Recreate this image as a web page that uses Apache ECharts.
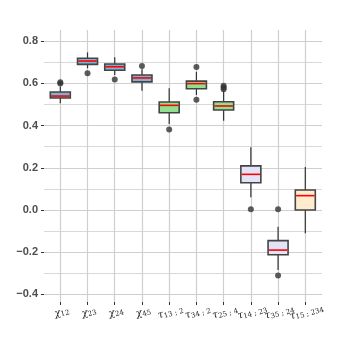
<!DOCTYPE html>
<html><head><meta charset="utf-8">
<script src="https://cdn.jsdelivr.net/npm/echarts@6/dist/echarts.min.js"></script>
<style>html,body{margin:0;padding:0;background:#fff}#c{width:357px;height:357px}</style>
</head><body><div id="c"></div>
<script>
const categories = ['χ12','χ23','χ24','χ45','τ13 ; 2','τ34 ; 2','τ25 ; 4','τ14 ; 23','τ35 ; 24','τ15 ; 234'];
// [lower whisker, q1, median, q3, upper whisker]
const boxStats = [
  [0.506, 0.531, 0.540, 0.559, 0.585],
  [0.672, 0.690, 0.706, 0.719, 0.747],
  [0.640, 0.662, 0.679, 0.692, 0.724],
  [0.565, 0.607, 0.626, 0.640, 0.667],
  [0.408, 0.461, 0.496, 0.512, 0.577],
  [0.545, 0.575, 0.599, 0.611, 0.655],
  [0.423, 0.474, 0.493, 0.513, 0.565],
  [0.060, 0.129, 0.169, 0.209, 0.297],
  [-0.284, -0.212, -0.190, -0.145, -0.079],
  [-0.110, 0.000, 0.068, 0.095, 0.204]
];
const boxGroups = ['chi','chi','chi','chi','tau1','tau1','tau1','tau2','tau2','tau3'];
const outliers = [
  [0, 0.600], [0, 0.606], [1, 0.648], [2, 0.619], [3, 0.682],
  [4, 0.382], [5, 0.678], [5, 0.523], [6, 0.589], [6, 0.580], [6, 0.572],
  [7, 0.003], [8, 0.003], [8, -0.310]
];
const yTicks = [-0.4, -0.2, 0.0, 0.2, 0.4, 0.6, 0.8];

const fills = {chi: '#7fb3d5', tau1: '#90e090', tau2: '#e3e3f7', tau3: '#ffebcd'};

const chart = echarts.init(document.getElementById('c'), null, {renderer: 'canvas'});
const py0 = 210, pxPerUnit = 211;
const g0top = py0 - yTicks[yTicks.length - 1] * pxPerUnit;
const g0h = (yTicks[yTicks.length - 1] - yTicks[0]) * pxPerUnit;
const g1top = 30, g1bottom = 302;
const halfBox = 10;

function labelFmt(v) {
  const g = v.charAt(0), s = v.slice(1);
  return '{g|' + g + '}{s|' + s + '}';
}

chart.setOption({
  animation: false,
  backgroundColor: '#fff',
  grid: [
    {left: 44, top: g0top, width: 278, height: g0h},
    {left: 60.3, top: g1top, width: 245, height: g1bottom - g1top}
  ],
  xAxis: [
    {gridIndex: 0, type: 'value', show: false, min: 0, max: 1},
    {
      gridIndex: 1, type: 'category', data: categories, boundaryGap: false, position: 'bottom',
      axisLine: {show: false, onZero: false},
      axisTick: {show: true, length: 3, lineStyle: {color: '#333', width: 1}},
      splitLine: {show: true, lineStyle: {color: '#cfcfcf', width: 1.2}},
      axisLabel: {
        interval: 0, rotate: 15, margin: 5, align: 'center', verticalAlign: 'top',
        formatter: labelFmt,
        rich: {
          g: {fontFamily: 'DejaVu Serif', fontStyle: 'italic', fontSize: 10, color: '#222'},
          s: {fontFamily: 'DejaVu Serif', fontSize: 7, color: '#222', verticalAlign: 'bottom', padding: [4, 0, 0, 0]}
        }
      }
    }
  ],
  yAxis: [
    {
      gridIndex: 0, type: 'value', min: yTicks[0], max: yTicks[yTicks.length - 1], interval: 0.2,
      axisLine: {show: false},
      axisTick: {show: true, length: 3, lineStyle: {color: '#333', width: 1}},
      axisLabel: {
        margin: 6, color: '#4d4d4d', fontSize: 11, fontWeight: 'bold', fontFamily: 'Liberation Sans',
        formatter: v => v.toFixed(1).replace('-', '\u2212')
      },
      splitLine: {show: true, lineStyle: {color: '#cfcfcf', width: 1.2}},
      minorTick: {show: false, splitNumber: 2},
      minorSplitLine: {show: true, lineStyle: {color: '#d9d9d9', width: 1}}
    },
    {
      gridIndex: 1, type: 'value', show: false,
      min: -(g1bottom - py0) / pxPerUnit, max: (py0 - g1top) / pxPerUnit
    }
  ],
  series: [
    {
      type: 'custom', xAxisIndex: 1, yAxisIndex: 1,
      data: boxStats.map((b, i) => [i].concat(b)),
      encode: {x: 0, y: [1, 2, 3, 4, 5]},
      renderItem: function (params, api) {
        const i = api.value(0);
        const pMin = api.coord([i, api.value(1)]);
        const pQ1 = api.coord([i, api.value(2)]);
        const pMed = api.coord([i, api.value(3)]);
        const pQ3 = api.coord([i, api.value(4)]);
        const pMax = api.coord([i, api.value(5)]);
        const x = pMed[0];
        const fill = fills[boxGroups[params.dataIndex]];
        return {
          type: 'group',
          children: [
            {type: 'line', shape: {x1: x, y1: pMax[1], x2: x, y2: pQ3[1]}, style: {stroke: '#333', lineWidth: 1.2}},
            {type: 'line', shape: {x1: x, y1: pQ1[1], x2: x, y2: pMin[1]}, style: {stroke: '#333', lineWidth: 1.2}},
            {type: 'rect', shape: {x: x - halfBox, y: pQ3[1], width: 2 * halfBox, height: pQ1[1] - pQ3[1]},
             style: {fill: fill, stroke: '#444', lineWidth: 1.6}},
            {type: 'line', shape: {x1: x - halfBox + 0.8, y1: pMed[1], x2: x + halfBox - 0.8, y2: pMed[1]},
             style: {stroke: '#ff0000', lineWidth: 1.6}}
          ]
        };
      },
      z: 4
    },
    {
      type: 'scatter', xAxisIndex: 1, yAxisIndex: 1,
      data: outliers, symbolSize: 6,
      itemStyle: {color: '#333'}, z: 6
    }
  ]
});
</script></body></html>
